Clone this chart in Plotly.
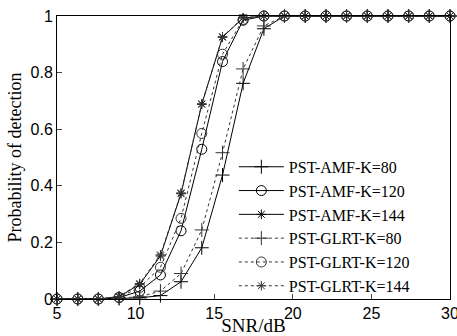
import plotly.graph_objects as go

snr = [5, 6.32, 7.63, 8.95, 10.26, 11.58, 12.89, 14.21, 15.53, 16.84,
       18.16, 19.47, 20.79, 22.11, 23.42, 24.74, 26.05, 27.37, 28.68, 30]

amf_80 = [0, 0, 0, 0.002, 0.004, 0.012, 0.061, 0.181, 0.438, 0.762,
          0.955, 1, 1, 1, 1, 1, 1, 1, 1, 1]
amf_120 = [0, 0, 0, 0.005, 0.028, 0.085, 0.241, 0.529, 0.839, 0.985,
           1, 1, 1, 1, 1, 1, 1, 1, 1, 1]
amf_144 = [0, 0, 0, 0.008, 0.052, 0.152, 0.372, 0.688, 0.925, 0.993,
           1, 1, 1, 1, 1, 1, 1, 1, 1, 1]
glrt_80 = [0, 0, 0, 0.003, 0.008, 0.028, 0.090, 0.244, 0.517, 0.813,
           0.965, 1, 1, 1, 1, 1, 1, 1, 1, 1]
glrt_120 = [0, 0, 0, 0.006, 0.041, 0.112, 0.285, 0.585, 0.865, 0.988,
            1, 1, 1, 1, 1, 1, 1, 1, 1, 1]
glrt_144 = [0, 0, 0, 0.009, 0.055, 0.156, 0.375, 0.690, 0.927, 0.994,
            1, 1, 1, 1, 1, 1, 1, 1, 1, 1]

series = [
    ("PST-AMF-K=80", amf_80, "solid", "cross-thin-open", "black", 10),
    ("PST-AMF-K=120", amf_120, "solid", "circle-open", "black", 10),
    ("PST-AMF-K=144", amf_144, "solid", "asterisk-open", "black", 8),
    ("PST-GLRT-K=80", glrt_80, "dot", "cross-thin-open", "#333333", 10),
    ("PST-GLRT-K=120", glrt_120, "dot", "circle-open", "#333333", 10),
    ("PST-GLRT-K=144", glrt_144, "dot", "asterisk-open", "#333333", 8),
]

x_ticks = [5, 10, 15, 20, 25, 30]
y_ticks = [0, 0.2, 0.4, 0.6, 0.8, 1]
y_ticktext = ["0", "0.2", "0.4", "0.6", "0.8", "1"]

fig = go.Figure()
for name, ys, dash, sym, col, sz in series:
    fig.add_trace(go.Scatter(
        x=snr, y=ys, name=name, mode="lines+markers",
        line=dict(color=col, width=1, dash=dash),
        marker=dict(symbol=sym, size=sz, color=col, line=dict(color=col, width=1)),
        cliponaxis=False,
    ))

fig.update_layout(
    width=457, height=336,
    margin=dict(l=57, r=7, t=16, b=37),
    paper_bgcolor="white", plot_bgcolor="white",
    showlegend=True,
    legend=dict(
        x=0.45, y=0.527, xanchor="left", yanchor="top",
        bgcolor="rgba(0,0,0,0)", borderwidth=0,
        font=dict(family="Liberation Serif", size=16, color="black"),
        itemwidth=45, tracegroupgap=0,
    ),
    xaxis=dict(
        range=[5, 30], tickvals=x_ticks, ticks="inside", ticklen=5,
        showline=True, linecolor="black", linewidth=1, mirror=True,
        showgrid=False, zeroline=False, automargin=False,
        ticklabeloverflow="allow",
        tickfont=dict(family="Liberation Sans", size=16, color="black"),
        title=dict(text="SNR/dB", standoff=0,
                   font=dict(family="Liberation Serif", size=19, color="black")),
    ),
    yaxis=dict(
        range=[0, 1], tickvals=y_ticks, ticktext=y_ticktext, ticks="inside", ticklen=5,
        showline=True, linecolor="black", linewidth=1, mirror=True,
        showgrid=False, zeroline=False, automargin=False,
        ticklabeloverflow="allow",
        tickfont=dict(family="Liberation Sans", size=16, color="black"),
        title=dict(text="Probability of detection", standoff=4,
                   font=dict(family="Liberation Serif", size=18, color="black")),
    ),
)

fig.write_html("out.html")
